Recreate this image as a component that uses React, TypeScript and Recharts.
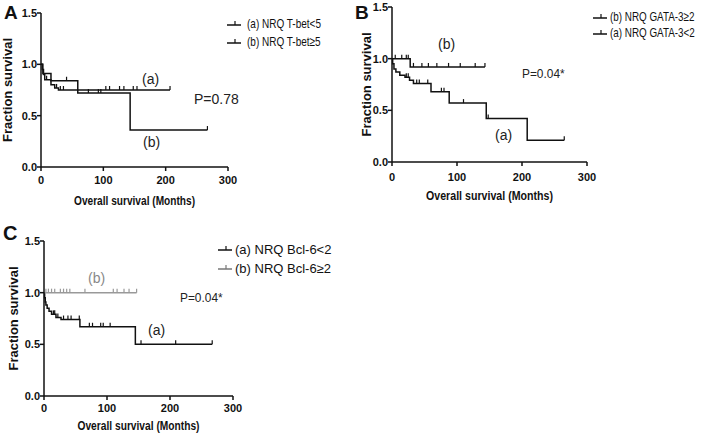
import { Label, Line, LineChart, XAxis, YAxis } from "recharts"

// A: T-bet
const tbetLtTimes = [0, 2, 4, 6, 16, 22, 28, 207]
const tbetLtSurv = [1, 0.95, 0.9, 0.85, 0.8, 0.77, 0.75, 0.75]
const tbetLtCens = [9, 25, 31, 36, 104, 110, 126, 133, 148, 154, 207]
const tbetGeTimes = [0, 3, 16, 59, 143, 267]
const tbetGeSurv = [1, 0.91, 0.84, 0.72, 0.36, 0.36]
const tbetGeCens = [41, 76, 92, 96, 267]

// B: GATA-3
const gataGeTimes = [0, 28, 143]
const gataGeSurv = [1, 0.92, 0.92]
const gataGeCens = [5, 15, 22, 25, 33, 46, 56, 69, 87, 105, 128, 143]
const gataLtTimes = [0, 1, 3, 6, 12, 20, 27, 33, 60, 88, 145, 208, 265]
const gataLtSurv = [1, 0.95, 0.9, 0.87, 0.84, 0.82, 0.79, 0.76, 0.68, 0.57, 0.42, 0.21, 0.21]
const gataLtCens = [22, 25, 38, 42, 55, 76, 80, 110, 148, 265]

// C: Bcl-6
const bclLtTimes = [0, 1, 2, 3, 5, 8, 12, 19, 27, 57, 145, 267]
const bclLtSurv = [1, 0.95, 0.91, 0.88, 0.85, 0.82, 0.79, 0.76, 0.74, 0.67, 0.5, 0.5]
const bclLtCens = [15, 17, 22, 31, 38, 43, 56, 72, 77, 90, 94, 105, 154, 209, 267]
const bclGeTimes = [0, 147]
const bclGeSurv = [1, 1]
const bclGeCens = [3, 7, 12, 17, 26, 31, 36, 41, 65, 110, 116, 127, 135, 147]

const xTicks = [0, 100, 200, 300]
const yTicks = [0, 0.5, 1, 1.5]

const FONT = "'Liberation Sans', Arial, sans-serif"

type Pt = { t: number; s: number; c: boolean }

// Kaplan-Meier Stufen + zensierte Zeitpunkte zusammenführen
function km(times: number[], surv: number[], cens: number[]): Pt[] {
  const pts: Pt[] = times.map((t, i) => ({ t, s: surv[i], c: false }))
  cens.forEach((ct) => {
    const last = times.length - 1
    if (ct === times[last]) {
      pts[last].c = true
      return
    }
    let idx = 0
    times.forEach((t, i) => {
      if (t <= ct) idx = i
    })
    pts.push({ t: ct, s: surv[idx], c: true })
  })
  return pts.sort((a, b) => a.t - b.t || Number(a.c) - Number(b.c))
}

const censorDot = (color: string) => (p: any) => {
  const k = `d${p.index}`
  if (!p.payload?.c) return <g key={k} />
  return <line key={k} x1={p.cx} x2={p.cx} y1={p.cy} y2={p.cy - 4} stroke={color} strokeWidth={1.2} />
}

interface Curve {
  data: Pt[]
  color: string
}

interface PanelProps {
  width: number
  height: number
  top: number
  right: number
  yw: number
  xh: number
  tickGap: number
  xTitleY: number
  xTitleW: number
  yTitleX: number
  curves: Curve[]
}

function Panel({ width, height, top, right, yw, xh, tickGap, xTitleY, xTitleW, yTitleX, curves }: PanelProps) {
  const tickStyle = { fill: "#111", fontSize: 11, fontWeight: 700, fontFamily: FONT }
  return (
    <LineChart width={width} height={height} margin={{ top, right, left: 0, bottom: 0 }}>
      <XAxis dataKey="t" type="number" domain={[0, 300]} ticks={xTicks} interval={0} height={xh}
        tick={tickStyle} tickSize={4} tickMargin={tickGap}
        axisLine={{ stroke: "#111", strokeWidth: 1.5 }} tickLine={{ stroke: "#111", strokeWidth: 1.5 }}>
        <Label content={(props: any) => {
          const vb = props.viewBox
          return (
            <text x={vb.x + vb.width / 2} y={xTitleY} textAnchor="middle" dominantBaseline="central"
              textLength={xTitleW} lengthAdjust="spacingAndGlyphs"
              fontSize={13.5} fontWeight={700} fontFamily={FONT} fill="#111">Overall survival (Months)</text>
          )
        }} />
      </XAxis>
      <YAxis type="number" domain={[0, 1.5]} ticks={yTicks} interval={0} width={yw}
        tickFormatter={(v) => Number(v).toFixed(1)} tick={tickStyle} tickSize={4} tickMargin={0}
        axisLine={{ stroke: "#111", strokeWidth: 1.5 }} tickLine={{ stroke: "#111", strokeWidth: 1.5 }}>
        <Label content={(props: any) => {
          const vb = props.viewBox
          const cy = vb.y + vb.height / 2
          return (
            <text x={yTitleX} y={cy} transform={`rotate(-90 ${yTitleX} ${cy})`} textAnchor="middle"
              dominantBaseline="central" fontSize={13} fontWeight={700} fontFamily={FONT} fill="#111">
              Fraction survival
            </text>
          )
        }} />
      </YAxis>
      {curves.map((c, i) => (
        <Line key={i} data={c.data} dataKey="s" type="stepAfter" stroke={c.color} strokeWidth={1.5}
          dot={censorDot(c.color)} activeDot={false} isAnimationActive={false} />
      ))}
    </LineChart>
  )
}

function Txt({ x, y, size = 14, color = "#222", sx = 1, weight = 400, children }: any) {
  return (
    <div style={{ position: "absolute", left: x, top: y, transform: `translateY(-50%) scaleX(${sx})`,
      transformOrigin: "left center", fontSize: size, lineHeight: 1, color, fontFamily: FONT,
      fontWeight: weight, whiteSpace: "nowrap" }}>
      {children}
    </div>
  )
}

function LegendRow({ x, y, textX, size, sx = 1, color = "#111", label }: any) {
  return (
    <>
      <svg style={{ position: "absolute", left: x, top: y - 6 }} width={15} height={10}>
        <line x1={0} x2={14} y1={7} y2={7} stroke={color} strokeWidth={1.5} />
        <line x1={8} x2={8} y1={7} y2={3} stroke={color} strokeWidth={1.2} />
      </svg>
      <Txt x={textX} y={y} size={size} sx={sx} color="#111">{label}</Txt>
    </>
  )
}

export default function App() {
  return (
    <div style={{ position: "absolute", left: 0, top: 0, width: 709, height: 435, background: "#fff", overflow: "hidden" }}>
      <div style={{ position: "absolute", left: 0, top: 0 }}>
        <Panel width={360} height={215} top={13} right={132} yw={41} xh={48} tickGap={5} xTitleY={200} xTitleW={121} yTitleX={7}
          curves={[
            { data: km(tbetLtTimes, tbetLtSurv, tbetLtCens), color: "#111" },
            { data: km(tbetGeTimes, tbetGeSurv, tbetGeCens), color: "#111" },
          ]} />
      </div>
      <div style={{ position: "absolute", left: 360, top: 0 }}>
        <Panel width={349} height={215} top={7} right={122} yw={32} xh={53} tickGap={7} xTitleY={195} xTitleW={127} yTitleX={6}
          curves={[
            { data: km(gataGeTimes, gataGeSurv, gataGeCens), color: "#111" },
            { data: km(gataLtTimes, gataLtSurv, gataLtCens), color: "#111" },
          ]} />
      </div>
      <div style={{ position: "absolute", left: 0, top: 215 }}>
        <Panel width={360} height={220} top={26} right={127} yw={44} xh={39} tickGap={4} xTitleY={210} xTitleW={122} yTitleX={13}
          curves={[
            { data: km(bclLtTimes, bclLtSurv, bclLtCens), color: "#111" },
            { data: km(bclGeTimes, bclGeSurv, bclGeCens), color: "#999" },
          ]} />
      </div>

      <Txt x={4} y={12} size={19} weight={700} color="#111">A</Txt>
      <Txt x={355} y={12} size={19} weight={700} color="#111">B</Txt>
      <Txt x={3} y={233} size={20} weight={700} color="#111">C</Txt>

      <LegendRow x={227} y={24} textX={247} size={13.5} sx={0.74} label="(a) NRQ T-bet<5" />
      <LegendRow x={227} y={42} textX={247} size={13.5} sx={0.74} label="(b) NRQ T-bet≥5" />
      <LegendRow x={593} y={17} textX={610} size={13.5} sx={0.73} label="(b) NRQ GATA-3≥2" />
      <LegendRow x={593} y={33} textX={610} size={13.5} sx={0.73} label="(a) NRQ GATA-3<2" />
      <LegendRow x={218} y={249} textX={235} size={13} label="(a) NRQ Bcl-6<2" />
      <LegendRow x={218} y={268} textX={235} size={13} color="#777" label="(b) NRQ Bcl-6≥2" />

      <Txt x={194} y={99} size={14}>P=0.78</Txt>
      <Txt x={522} y={74} size={13.5} sx={0.88}>P=0.04*</Txt>
      <Txt x={180} y={298} size={13.5} sx={0.88}>P=0.04*</Txt>

      <Txt x={142} y={79} size={14}>(a)</Txt>
      <Txt x={143} y={142} size={14}>(b)</Txt>
      <Txt x={438} y={44} size={14}>(b)</Txt>
      <Txt x={495} y={135} size={14}>(a)</Txt>
      <Txt x={88} y={278} size={14} color="#888">(b)</Txt>
      <Txt x={148} y={330} size={14}>(a)</Txt>
    </div>
  )
}
